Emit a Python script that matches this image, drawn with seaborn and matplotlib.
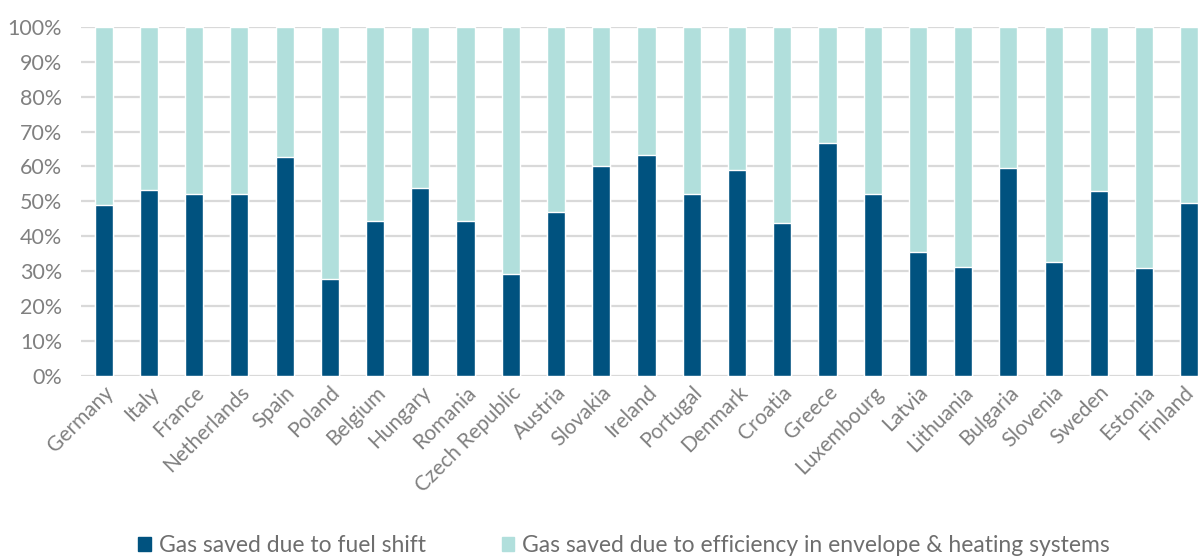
import numpy as np
import pandas as pd
import matplotlib.pyplot as plt
import matplotlib.transforms as mtransforms
import seaborn as sns
from matplotlib.patches import Patch
from matplotlib.ticker import PercentFormatter

# dados (parcela do gás economizado, %)
countries = ['Germany', 'Italy', 'France', 'Netherlands', 'Spain', 'Poland', 'Belgium',
             'Hungary', 'Romania', 'Czech Republic', 'Austria', 'Slovakia', 'Ireland',
             'Portugal', 'Denmark', 'Croatia', 'Greece', 'Luxembourg', 'Latvia',
             'Lithuania', 'Bulgaria', 'Slovenia', 'Sweden', 'Estonia', 'Finland']
fuel_shift = [48.8, 53.2, 52.2, 52.2, 62.7, 27.7, 44.3, 53.7, 44.3, 29.2, 46.9, 60.0, 63.4,
              52.2, 58.9, 43.9, 66.6, 52.2, 35.4, 31.2, 59.6, 32.7, 52.9, 30.9, 49.5]
efficiency = [100 - v for v in fuel_shift]

lbl_fuel = 'Gas saved due to fuel shift'
lbl_eff = 'Gas saved due to efficiency in envelope & heating systems'

c_dark = '#00527f'
c_light = '#b1dfdc'
c_text = '#808080'

df = pd.DataFrame({'country': countries, 'fuel': fuel_shift, 'eff': efficiency})
df['total'] = df['fuel'] + df['eff']

sns.set_style('white')
plt.rcParams['font.family'] = ['Lato', 'DejaVu Sans']

fig = plt.figure(figsize=(11.98, 5.59), dpi=100)
# eixo se estende além da borda direita, como no original
ax = fig.add_axes([81 / 1198, 1 - 375.5 / 559, 1131 / 1198, 348.5 / 559])

sns.barplot(data=df, x='country', y='total', color=c_light, width=0.4, ax=ax,
            saturation=1, zorder=2)
sns.barplot(data=df, x='country', y='fuel', color=c_dark, width=0.4, ax=ax,
            saturation=1, zorder=3)

ax.set_xlim(-0.5, len(countries) - 0.5)
ax.set_ylim(0, 100)
ax.set_yticks(np.arange(0, 101, 10))
ax.yaxis.set_major_formatter(PercentFormatter(decimals=0))
ax.grid(axis='y', color='#d9d9d9', linewidth=1.6, zorder=0)
ax.set_axisbelow(True)
for s in ax.spines.values():
    s.set_visible(False)

ax.set_xlabel('')
ax.set_ylabel('')
ax.tick_params(axis='y', length=0, colors=c_text, labelsize=15.5, pad=13.5)
ax.set_xticks(range(len(countries)))
ax.set_xticklabels(countries, rotation=45, ha='right', rotation_mode='anchor')
ax.tick_params(axis='x', length=0, colors=c_text, labelsize=15, pad=5)

# último rótulo encosta na borda direita: puxa alguns pixels para a esquerda
last = ax.get_xticklabels()[-1]
last.set_transform(last.get_transform() +
                   mtransforms.ScaledTranslation(-6 / 100, 0, fig.dpi_scale_trans))

handles = [Patch(color=c_dark, label=lbl_fuel), Patch(color=c_light, label=lbl_eff)]
fig.legend(handles=handles, loc='center', bbox_to_anchor=(0.521, 1 - 546 / 559), ncol=2,
           frameon=False, fontsize=16.5, labelcolor='#6e6e6e', handlelength=0.55,
           handleheight=0.55, handletextpad=0.35, columnspacing=3.3)

fig.savefig('out.png', dpi=100)
